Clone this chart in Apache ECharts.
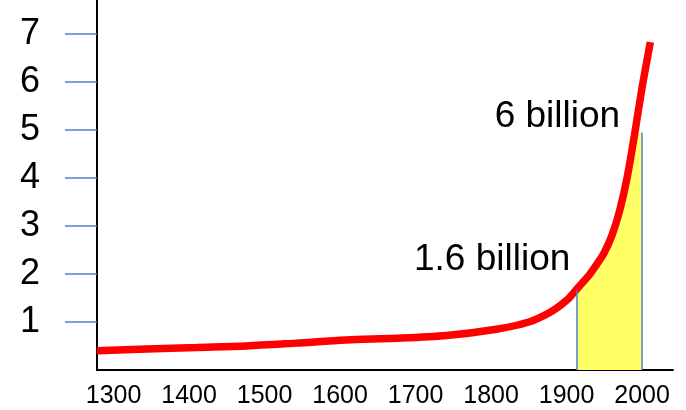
<!DOCTYPE html>
<html>
<head>
<meta charset="utf-8">
<script src="https://cdn.jsdelivr.net/npm/echarts@6/dist/echarts.min.js"></script>
<style>
  html, body { margin: 0; padding: 0; background: #fff; }
  #main { width: 686px; height: 410px; }
</style>
</head>
<body>
<div id="main"></div>
<script>
// population curve (billions)
const years = [1278, 1344, 1410, 1476, 1542, 1608, 1674, 1741, 1807, 1850, 1880, 1900, 1910, 1920, 1930, 1940, 1950, 1960, 1970, 1980, 1990, 2000, 2011];
const population = [0.40, 0.44, 0.47, 0.50, 0.56, 0.625, 0.66, 0.72, 0.85, 1.0, 1.22, 1.45, 1.62, 1.80, 1.98, 2.20, 2.45, 2.80, 3.30, 3.99, 4.90, 5.88, 6.83];

// shaded part under the curve
const shadeYears = [1914, 1920, 1930, 1940, 1950, 1960, 1970, 1980, 1990, 1999];
const shadeValues = [1.66, 1.77, 1.95, 2.17, 2.42, 2.77, 3.27, 3.95, 4.85, 4.95];

const xTicks = [1300, 1400, 1500, 1600, 1700, 1800, 1900, 2000];
const yTicks = [1, 2, 3, 4, 5, 6, 7];

// text notes placed in data space (right edge, vertical middle)
const notes = [
    { name: '1.6 billion', coord: [1905, 2.30] },
    { name: '6 billion', coord: [1971, 5.28] }
];

const font = 'Liberation Sans, Arial, sans-serif';
const blue = '#4F81C7';

const chart = echarts.init(document.getElementById('main'));

const option = {
    animation: false,
    grid: { left: 97, right: 13, top: 0, bottom: 40 },
    xAxis: {
        type: 'value',
        min: 1278,
        max: 2041,
        axisLine: { lineStyle: { color: '#000', width: 2 } },
        axisTick: { show: false },
        splitLine: { show: false },
        axisLabel: {
            customValues: xTicks,
            formatter: v => String(v),
            fontSize: 25,
            fontFamily: font,
            color: '#000',
            margin: 14
        }
    },
    yAxis: {
        type: 'value',
        min: 0,
        max: 7.708,
        axisLine: { show: true, lineStyle: { color: '#000', width: 2 } },
        axisTick: {
            show: true,
            customValues: yTicks,
            length: 32,
            lineStyle: { color: blue, width: 1.5 }
        },
        splitLine: { show: false },
        axisLabel: {
            customValues: yTicks,
            fontSize: 36,
            fontFamily: font,
            color: '#000',
            margin: 57
        }
    },
    series: [
        {
            // yellow shaded area with blue edges
            type: 'line',
            data: shadeYears.map((y, i) => [y, shadeValues[i]]),
            smooth: 0.3,
            symbol: 'none',
            lineStyle: { width: 0 },
            areaStyle: { color: '#FFFF66', opacity: 1 },
            markLine: {
                silent: true,
                symbol: 'none',
                label: { show: false },
                lineStyle: { color: blue, width: 1.5, type: 'solid' },
                data: [
                    [{ coord: [shadeYears[0], 0] }, { coord: [shadeYears[0], shadeValues[0]] }],
                    [{ coord: [shadeYears[shadeYears.length - 1], 0] }, { coord: [shadeYears[shadeYears.length - 1], shadeValues[shadeValues.length - 1]] }]
                ]
            },
            z: 1
        },
        {
            type: 'line',
            data: years.map((y, i) => [y, population[i]]),
            smooth: 0.3,
            symbol: 'none',
            lineStyle: { color: '#FF0000', width: 7.5 },
            markPoint: {
                symbolSize: 0,
                silent: true,
                label: {
                    show: true,
                    position: [0, 0],
                    align: 'right',
                    verticalAlign: 'middle',
                    formatter: '{b}',
                    fontSize: 37,
                    fontFamily: font,
                    color: '#000'
                },
                data: notes
            },
            z: 3
        }
    ]
};

chart.setOption(option);
</script>
</body>
</html>
